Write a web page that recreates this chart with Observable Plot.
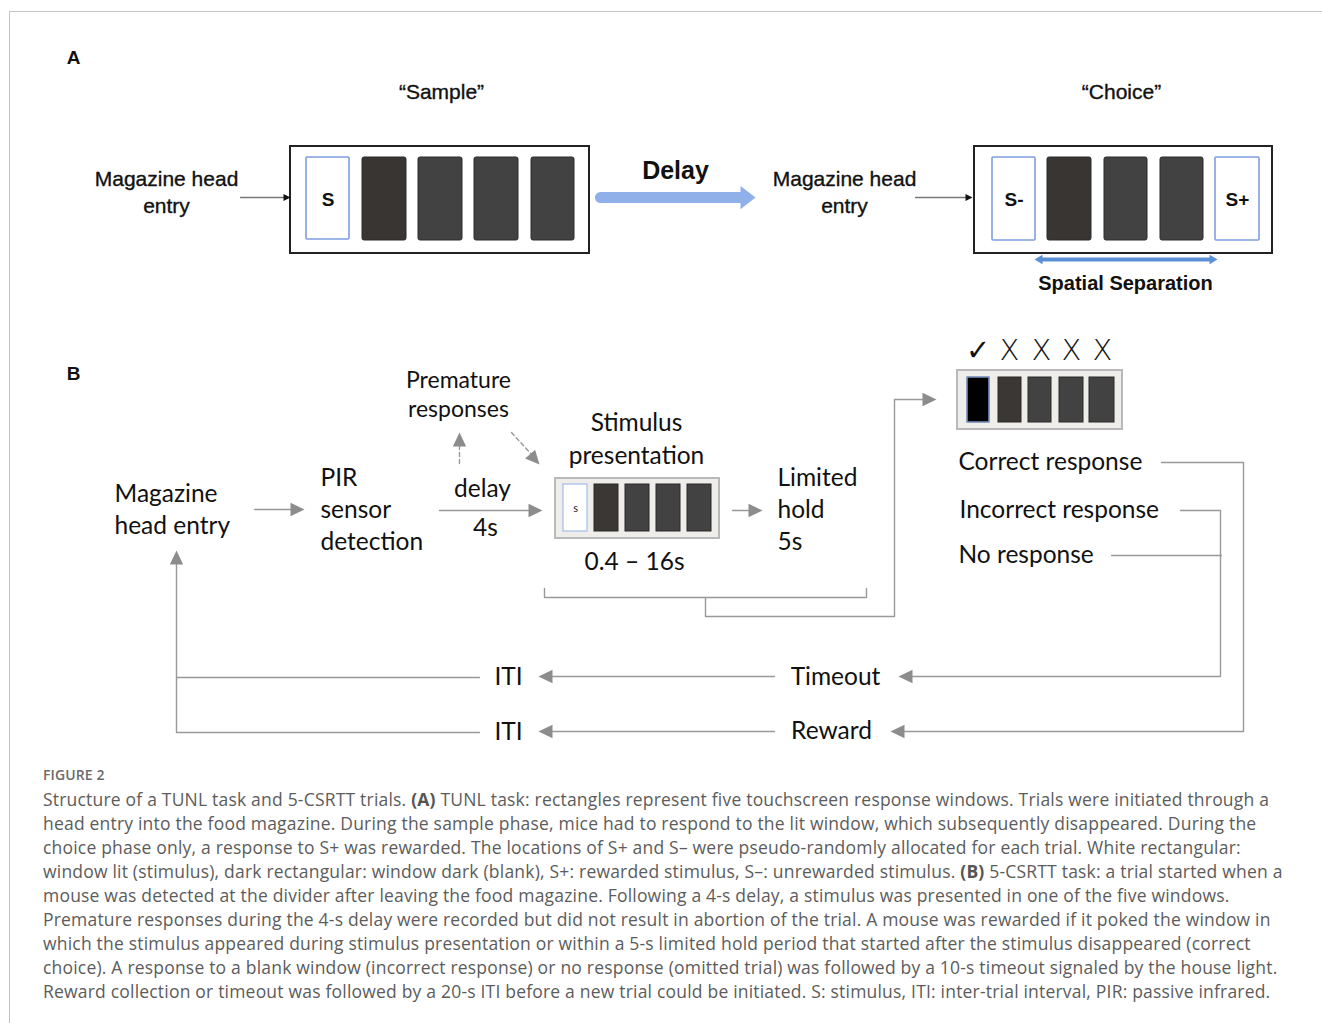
<!DOCTYPE html>
<html><head><meta charset="utf-8">
<script src="https://cdn.jsdelivr.net/npm/d3@7"></script>
<script src="https://cdn.jsdelivr.net/npm/@observablehq/plot@0.6"></script>
<style>
html,body{margin:0;padding:0;background:#fff;width:1322px;height:1023px;overflow:hidden;}
#frame{position:absolute;left:9px;top:11px;right:0;bottom:0;border-left:1px solid #c4c4c4;border-top:1px solid #c4c4c4;}
#chart{position:absolute;left:0;top:0;}
#caption{position:absolute;left:43px;top:763px;font-family:"Open Sans",Lato,sans-serif;color:#5c5c5c;}
.fig{font-size:14px;line-height:24px;color:#6a6a6a;font-weight:600;letter-spacing:0.1px}
.ln{font-size:17.5px;line-height:24px;white-space:nowrap;letter-spacing:0.2px}
.ln b{font-weight:700;color:#555}
</style></head>
<body>
<div id="frame"></div>
<div id="chart"></div>
<div id="caption"></div>
<script>
// ---------- Panel A data ----------
const panelLabels = [{t:"A",x:73,y:57},{t:"B",x:73,y:373}];
const phaseTitles = [{t:"“Sample”",x:441,y:92},{t:"“Choice”",x:1121,y:92}];
const entryLabels = [
  {t:"Magazine head",x:166,y:179},{t:"entry",x:166,y:206},
  {t:"Magazine head",x:844,y:179},{t:"entry",x:844,y:206}
];
const screensA = [{x1:290,x2:589,y1:146,y2:253},{x1:974,x2:1272,y1:146,y2:253}];
const litWindowsA = [
  {x1:306,x2:349,y1:157,y2:239,t:"S"},
  {x1:992,x2:1035,y1:157,y2:240,t:"S-"},
  {x1:1215,x2:1259,y1:157,y2:240,t:"S+"}
];
const darkWindowsA = [
  {x1:362,x2:406,y1:157,y2:240,c:"#393533"},
  {x1:418,x2:462,y1:157,y2:240,c:"#424242"},
  {x1:474,x2:518,y1:157,y2:240,c:"#424242"},
  {x1:531,x2:574,y1:157,y2:240,c:"#424242"},
  {x1:1047,x2:1091,y1:157,y2:240,c:"#393533"},
  {x1:1104,x2:1147,y1:157,y2:240,c:"#424242"},
  {x1:1160,x2:1203,y1:157,y2:240,c:"#424242"}
];
const entryArrowsA = [
  {id:"e1",pts:[[240,197],[285,197]],tip:[290,197],rot:0},
  {id:"e2",pts:[[915,197],[967,197]],tip:[972,197],rot:0}
];
const delayArrow = {pts:[[600,197],[742,197]],tip:[755,197],label:"Delay",lx:675,ly:170};
const spatialArrow = {pts:[[1040,259],[1211,259]],tips:[[1034,259,180],[1217,259,0]],label:"Spatial Separation",lx:1125,ly:283};

// ---------- Panel B data ----------
const flowLabelsStart = [
  {t:"Magazine",x:114,y:494},{t:"head entry",x:114,y:526},
  {t:"PIR",x:320,y:478},{t:"sensor",x:320,y:510},{t:"detection",x:320,y:542},
  {t:"Limited",x:777,y:478},{t:"hold",x:777,y:510},{t:"5s",x:777,y:542},
  {t:"Correct response",x:958,y:462},{t:"Incorrect response",x:959,y:510},{t:"No response",x:958,y:555}
];
const flowLabelsMid = [
  {t:"Stimulus",x:636,y:423},{t:"presentation",x:636,y:456},
  {t:"delay",x:482,y:489},{t:"4s",x:485,y:528},
  {t:"0.4 – 16s",x:634,y:562},
  {t:"ITI",x:508,y:677},{t:"Timeout",x:835,y:677},
  {t:"ITI",x:508,y:732},{t:"Reward",x:831,y:731}
];
const prematureLabels = [{t:"Premature",x:458,y:380},{t:"responses",x:458,y:409}];
const outcomeMarks = [
  {t:"✓",x:977,y:350},{t:"X",x:1009,y:350},{t:"X",x:1041,y:350},{t:"X",x:1071,y:350},{t:"X",x:1102,y:350}
];
const screensB = [{x1:555,x2:719,y1:478,y2:538},{x1:957,x2:1122,y1:370,y2:429}];
const litWindowsB = [{x1:563,x2:587,y1:484,y2:531,t:"s"}];
const darkWindowsB = [
  {x1:594,x2:618,y1:484,y2:531,c:"#3a3735"},
  {x1:625,x2:649,y1:484,y2:531,c:"#424242"},
  {x1:656,x2:680,y1:484,y2:531,c:"#424242"},
  {x1:687,x2:711,y1:484,y2:531,c:"#424242"},
  {x1:967,x2:989,y1:377,y2:422,c:"#000000"},
  {x1:998,x2:1021,y1:377,y2:422,c:"#3a3735"},
  {x1:1028,x2:1051,y1:377,y2:422,c:"#424242"},
  {x1:1059,x2:1083,y1:377,y2:422,c:"#424242"},
  {x1:1089,x2:1114,y1:377,y2:422,c:"#424242"}
];
const correctWindow = [{x1:967,x2:989,y1:377,y2:422}];
const grayPaths = [
  {id:"g1",pts:[[254,509],[292,509]]},
  {id:"g2",pts:[[439,510],[530,510]]},
  {id:"g3",pts:[[732,510],[750,510]]},
  {id:"br",pts:[[544,588],[544,597],[866,597],[866,588]]},
  {id:"cn",pts:[[705,597],[705,616],[894,616],[894,399],[924,399]]},
  {id:"cr",pts:[[1161,462],[1243,462],[1243,731],[902,731]]},
  {id:"ic",pts:[[1180,510],[1220,510],[1220,676],[910,676]]},
  {id:"nr",pts:[[1111,555],[1221,555]]},
  {id:"t1",pts:[[774,676],[550,676]]},
  {id:"r1",pts:[[774,731],[550,731]]},
  {id:"i1",pts:[[479,677],[176,677]]},
  {id:"i2",pts:[[479,732],[176,732],[176,562]]}
];
const dashedPaths = [
  {id:"d1",pts:[[459,463],[459,444]]},
  {id:"d2",pts:[[511,432],[532,455]]}
];
const grayHeads = [
  {x:304,y:509,rot:0},{x:542,y:510,rot:0},{x:762,y:510,rot:0},
  {x:936,y:399,rot:0},{x:890,y:731,rot:180},{x:898,y:676,rot:180},
  {x:538,y:676,rot:180},{x:538,y:731,rot:180},{x:176,y:550,rot:-90},
  {x:459,y:432,rot:-90},{x:539,y:464,rot:48}
];
const captionLines = [
  "Structure of a TUNL task and 5-CSRTT trials. <b>(A)</b> TUNL task: rectangles represent five touchscreen response windows. Trials were initiated through a",
  "head entry into the food magazine. During the sample phase, mice had to respond to the lit window, which subsequently disappeared. During the",
  "choice phase only, a response to S+ was rewarded. The locations of S+ and S– were pseudo-randomly allocated for each trial. White rectangular:",
  "window lit (stimulus), dark rectangular: window dark (blank), S+: rewarded stimulus, S–: unrewarded stimulus. <b>(B)</b> 5-CSRTT task: a trial started when a",
  "mouse was detected at the divider after leaving the food magazine. Following a 4-s delay, a stimulus was presented in one of the five windows.",
  "Premature responses during the 4-s delay were recorded but did not result in abortion of the trial. A mouse was rewarded if it poked the window in",
  "which the stimulus appeared during stimulus presentation or within a 5-s limited hold period that started after the stimulus disappeared (correct",
  "choice). A response to a blank window (incorrect response) or no response (omitted trial) was followed by a 10-s timeout signaled by the house light.",
  "Reward collection or timeout was followed by a 20-s ITI before a new trial could be initiated. S: stimulus, ITI: inter-trial interval, PIR: passive infrared."
];

// ---------- helpers ----------
function makeHead(k){ // tip at origin, pointing +x; length 2r, half width k*r
  return {draw(ctx,size){const r=Math.sqrt(size/Math.PI);ctx.moveTo(0,0);ctx.lineTo(-2*r,-k*r);ctx.lineTo(-2*r,k*r);ctx.closePath();}};
}
const flat = paths => paths.flatMap(p => p.pts.map(([x,y]) => ({id:p.id,x,y})));
const SANS = "'Liberation Sans', Arial, Helvetica, sans-serif";
const CAL = "Lato, 'Open Sans', sans-serif";

const chart = Plot.plot({
  width:1322, height:760, margin:0,
  x:{domain:[0,1322],range:[0,1322],axis:null},
  y:{domain:[0,760],range:[0,760],axis:null},
  color:{type:"identity"},
  style:{background:"transparent",overflow:"visible"},
  marks:[
    // Panel A
    Plot.text(panelLabels,{x:"x",y:"y",text:"t",fontSize:19,fontWeight:"bold",fontFamily:SANS,fill:"#111"}),
    Plot.text(phaseTitles,{x:"x",y:"y",text:"t",fontSize:21,fontFamily:SANS,fill:"#111",stroke:"#111",strokeWidth:0.35}),
    Plot.text(entryLabels,{x:"x",y:"y",text:"t",fontSize:21,fontFamily:SANS,fill:"#111",stroke:"#111",strokeWidth:0.35}),
    Plot.rect(screensA,{x1:"x1",x2:"x2",y1:"y1",y2:"y2",fill:"white",stroke:"#222",strokeWidth:2}),
    Plot.rect(darkWindowsA,{x1:"x1",x2:"x2",y1:"y1",y2:"y2",fill:"c",stroke:"#2a2a2a",strokeWidth:1,rx:2}),
    Plot.rect(litWindowsA,{x1:"x1",x2:"x2",y1:"y1",y2:"y2",fill:"white",stroke:"#7f9fe0",strokeWidth:1.6,rx:1}),
    Plot.text(litWindowsA,{x:d=>(d.x1+d.x2)/2,y:d=>(d.y1+d.y2)/2+1,text:"t",fontSize:19,fontWeight:"bold",fontFamily:SANS,fill:"#111"}),
    Plot.line(flat(entryArrowsA),{x:"x",y:"y",z:"id",stroke:"#777",strokeWidth:1.3}),
    Plot.dot(entryArrowsA,{x:d=>d.tip[0],y:d=>d.tip[1],rotate:"rot",r:3.5,symbol:makeHead(1),fill:"#111",stroke:"none"}),
    Plot.line(delayArrow.pts.map(([x,y])=>({x,y})),{x:"x",y:"y",stroke:"#8fb0e8",strokeWidth:11}),
    Plot.dot([delayArrow],{x:d=>d.tip[0],y:d=>d.tip[1],r:7.5,symbol:makeHead(1.55),fill:"#8fb0e8",stroke:"none"}),
    Plot.text([delayArrow],{x:"lx",y:"ly",text:"label",fontSize:25,fontWeight:"bold",fontFamily:SANS,fill:"#111"}),
    Plot.line(spatialArrow.pts.map(([x,y])=>({x,y})),{x:"x",y:"y",stroke:"#5b8fd6",strokeWidth:4}),
    Plot.dot(spatialArrow.tips,{x:d=>d[0],y:d=>d[1],rotate:d=>d[2],r:4,symbol:makeHead(1.2),fill:"#5b8fd6",stroke:"none"}),
    Plot.text([spatialArrow],{x:"lx",y:"ly",text:"label",fontSize:20,fontWeight:"bold",fontFamily:SANS,fill:"#111",letterSpacing:-0.2}),
    // Panel B
    Plot.rect(screensB,{x1:"x1",x2:"x2",y1:"y1",y2:"y2",fill:"#efedea",stroke:"#b9b9b9",strokeWidth:2}),
    Plot.rect(darkWindowsB,{x1:"x1",x2:"x2",y1:"y1",y2:"y2",fill:"c",stroke:"#2a2a2a",strokeWidth:1}),
    Plot.rect(correctWindow,{x1:"x1",x2:"x2",y1:"y1",y2:"y2",fill:"none",stroke:"#8fb0e8",strokeWidth:1.2}),
    Plot.rect(litWindowsB,{x1:"x1",x2:"x2",y1:"y1",y2:"y2",fill:"white",stroke:"#a9c0ea",strokeWidth:1.3}),
    Plot.text(litWindowsB,{x:d=>(d.x1+d.x2)/2,y:d=>(d.y1+d.y2)/2,text:"t",fontSize:11,fontFamily:CAL,fill:"#222"}),
    Plot.line(flat(grayPaths),{x:"x",y:"y",z:"id",stroke:"#999",strokeWidth:1.4}),
    Plot.line(flat(dashedPaths),{x:"x",y:"y",z:"id",stroke:"#999",strokeWidth:1.4,strokeDasharray:"4,3"}),
    Plot.dot(grayHeads,{x:"x",y:"y",rotate:"rot",r:7,symbol:makeHead(0.95),fill:"#8c8c8c",stroke:"none"}),
    Plot.text(flowLabelsStart,{x:"x",y:"y",text:"t",textAnchor:"start",fontSize:24.5,fontFamily:CAL,fill:"#111"}),
    Plot.text(flowLabelsMid,{x:"x",y:"y",text:"t",fontSize:24.5,fontFamily:CAL,fill:"#111"}),
    Plot.text(prematureLabels,{x:"x",y:"y",text:"t",fontSize:23,fontFamily:CAL,fill:"#111"}),
    Plot.text(outcomeMarks,{x:"x",y:"y",text:"t",fontSize:29,fontFamily:"'DejaVu Sans', sans-serif",fontWeight:300,fill:"#111"})
  ]
});
document.getElementById("chart").appendChild(chart);

const cap = document.getElementById("caption");
cap.innerHTML = '<div class="fig">FIGURE 2</div>' + captionLines.map(l => '<div class="ln">' + l + '</div>').join("");
</script>
</body></html>
